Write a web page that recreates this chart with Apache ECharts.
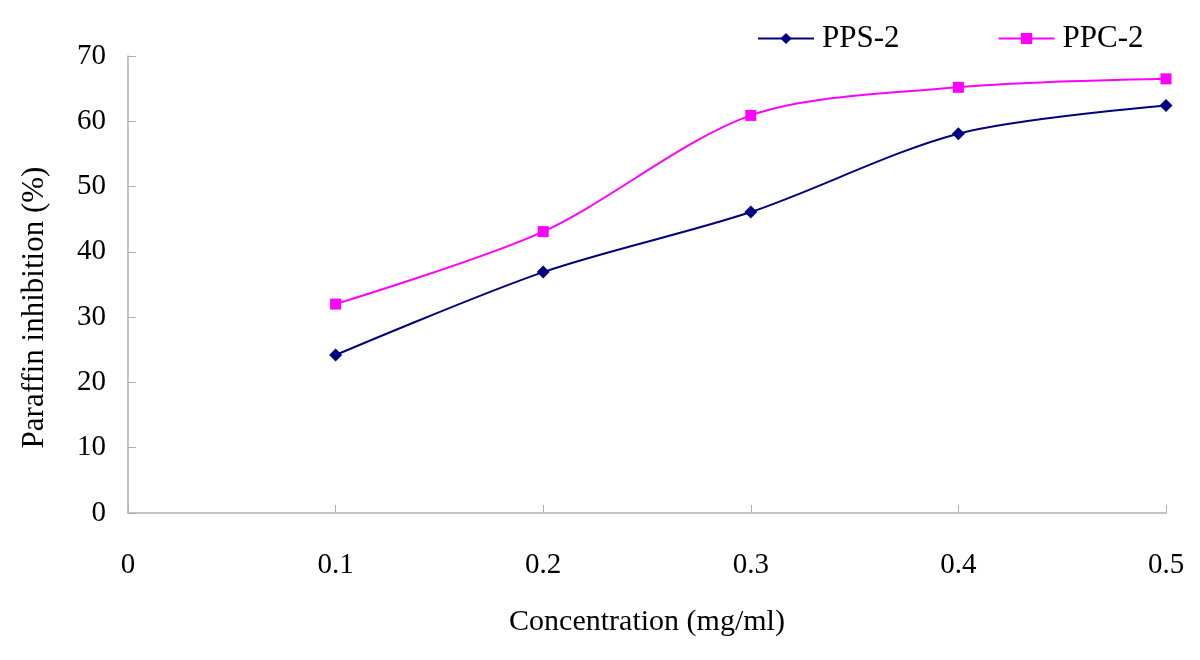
<!DOCTYPE html>
<html><head><meta charset="utf-8">
<script src="https://cdn.jsdelivr.net/npm/echarts@6/dist/echarts.min.js"></script>
<style>html,body{margin:0;padding:0;background:#fff}#c{width:1200px;height:660px}</style>
</head><body><div id="c"></div>
<script>
const concentrations = [0.1, 0.2, 0.3, 0.4, 0.5];
const pps2 = [24.2, 36.9, 46.1, 58.1, 62.4];
const ppc2 = [32.0, 43.1, 60.9, 65.2, 66.5];
const seriesNames = ['PPS-2', 'PPC-2'];

const font = 'Liberation Serif, Times New Roman, serif';
const chart = echarts.init(document.getElementById('c'));
chart.setOption({
  animation: false,
  backgroundColor: '#fff',
  textStyle: {fontFamily: font},
  grid: {left: 128, right: 34, top: 56, bottom: 147},
  legend: {
    top: 18, left: 752, itemGap: 98, itemWidth: 56, itemHeight: 14,
    textStyle: {fontFamily: font, fontSize: 31, color: '#000', padding: [0, 0, 0, 3]},
    data: seriesNames
  },
  xAxis: {
    type: 'value', min: 0, max: 0.5, interval: 0.1,
    name: 'Concentration (mg/ml)', nameLocation: 'middle', nameGap: 94,
    nameTextStyle: {fontFamily: font, fontSize: 30, color: '#000'},
    axisLine: {lineStyle: {color: '#b0b0b0', width: 1.5}},
    axisTick: {inside: true, length: 8, lineStyle: {color: '#b0b0b0'}},
    axisLabel: {margin: 38, fontFamily: font, fontSize: 29, color: '#000', formatter: v => String(+v.toFixed(1))},
    splitLine: {show: false}
  },
  yAxis: {
    type: 'value', min: 0, max: 70, interval: 10,
    name: 'Paraffin inhibition (%)', nameLocation: 'middle', nameGap: 78,
    nameTextStyle: {fontFamily: font, fontSize: 31, color: '#000', padding: [0, 46, 0, 0]},
    axisLine: {show: true, lineStyle: {color: '#b0b0b0', width: 1.5}},
    axisTick: {show: true, inside: true, length: 8, lineStyle: {color: '#b0b0b0'}},
    axisLabel: {margin: 22, fontFamily: font, fontSize: 29, color: '#000'},
    splitLine: {show: false}
  },
  series: [
    {name: seriesNames[0], type: 'line', smooth: 0.3, symbol: 'diamond', symbolSize: 13,
     itemStyle: {color: '#000080'}, lineStyle: {color: '#000080', width: 2},
     data: concentrations.map((x, i) => [x, pps2[i]])},
    {name: seriesNames[1], type: 'line', smooth: 0.3, symbol: 'rect', symbolSize: 11,
     itemStyle: {color: '#ff00ff'}, lineStyle: {color: '#ff00ff', width: 2},
     data: concentrations.map((x, i) => [x, ppc2[i]])}
  ]
});
</script></body></html>
